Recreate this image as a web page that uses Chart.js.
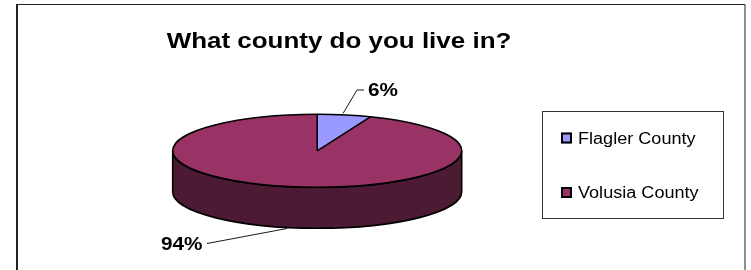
<!DOCTYPE html>
<html>
<head>
<meta charset="utf-8">
<script src="https://cdn.jsdelivr.net/npm/chart.js@4.4.0/dist/chart.umd.min.js"></script>
<style>
    html, body { margin: 0; padding: 0; background: #fff; }
    canvas { display: block; }
</style>
</head>
<body>
<canvas id="countyChart" width="751" height="270" style="width:751px;height:270px"></canvas>
<script>
// dane z wykresu
const chartTitle = 'What county do you live in?';
const categories = ['Flagler County', 'Volusia County'];
const shares = [6, 94];
const sliceColors = ['#9999FF', '#993366'];
const sideColors = ['#4D4D80', '#4D1A33'];

const tilt = 0.2526;   // ry / rx of the top face
const depth = 41;      // thickness of the pie

function stretchedText(ctx, text, x, y, font, stretch, align) {
    ctx.save();
    ctx.font = font;
    ctx.fillStyle = '#000';
    ctx.textAlign = align;
    ctx.textBaseline = 'alphabetic';
    ctx.translate(x, y);
    ctx.scale(stretch, 1);
    ctx.fillText(text, 0, 0);
    ctx.restore();
}

function rimPoint(cx, cy, rx, ry, angle) {
    return {x: cx + rx * Math.cos(angle), y: cy + ry * Math.sin(angle)};
}

const pie3d = {
    id: 'pie3d',
    beforeDatasetsDraw(chart) {
        const ctx = chart.ctx;
        const arcs = chart.getDatasetMeta(0).data;
        const cx = arcs[0].x, cy = arcs[0].y, rx = arcs[0].outerRadius;
        const ry = rx * tilt;

        // sciany boczne (tylko przednia polowa jest widoczna)
        arcs.forEach((arc, i) => {
            const a = Math.max(arc.startAngle, 0);
            const b = Math.min(arc.endAngle, Math.PI);
            if (a >= b) return;
            ctx.beginPath();
            ctx.ellipse(cx, cy, rx, ry, 0, a, b);
            ctx.ellipse(cx, cy + depth, rx, ry, 0, b, a, true);
            ctx.closePath();
            ctx.fillStyle = sideColors[i];
            ctx.fill();
            ctx.lineWidth = 1.6;
            ctx.strokeStyle = '#000';
            ctx.stroke();
        });

        // spłaszczenie gornej powierzchni
        ctx.save();
        ctx.translate(cx, cy);
        ctx.scale(1, tilt);
        ctx.translate(-cx, -cy);
    },
    afterDatasetsDraw(chart) {
        const ctx = chart.ctx;
        ctx.restore();

        const arcs = chart.getDatasetMeta(0).data;
        const cx = arcs[0].x, cy = arcs[0].y, rx = arcs[0].outerRadius;
        const ry = rx * tilt;

        ctx.save();
        ctx.strokeStyle = '#000';
        ctx.lineWidth = 1.6;
        ctx.beginPath();
        ctx.ellipse(cx, cy, rx, ry, 0, 0, Math.PI * 2);
        ctx.stroke();
        arcs.forEach(arc => {
            const p = rimPoint(cx, cy, rx, ry, arc.startAngle);
            ctx.beginPath();
            ctx.moveTo(cx, cy);
            ctx.lineTo(p.x, p.y);
            ctx.stroke();
        });
        ctx.restore();
    },
    afterDraw(chart) {
        const ctx = chart.ctx;
        const total = shares.reduce((s, v) => s + v, 0);
        const pct = shares.map(v => Math.round(v / total * 100) + '%');

        // ramka
        ctx.save();
        ctx.strokeStyle = '#222';
        ctx.lineWidth = 1;
        ctx.beginPath();
        ctx.moveTo(745, 271);
        ctx.lineTo(745, 4.5);
        ctx.lineTo(17, 4.5);
        ctx.stroke();
        ctx.lineWidth = 2;
        ctx.beginPath();
        ctx.moveTo(17, 4);
        ctx.lineTo(17, 271);
        ctx.stroke();
        ctx.restore();

        // tytul
        stretchedText(ctx, chartTitle, 339, 47.5, 'bold 22px "Liberation Sans", Arial, sans-serif', 1.18, 'center');

        // etykiety procentowe z liniami
        ctx.save();
        ctx.strokeStyle = '#000';
        ctx.lineWidth = 0.9;
        ctx.beginPath();
        ctx.moveTo(343, 113.5);
        ctx.lineTo(357, 90);
        ctx.lineTo(364, 90);
        ctx.moveTo(207, 243.5);
        ctx.lineTo(287, 228.5);
        ctx.stroke();
        ctx.restore();
        stretchedText(ctx, pct[0], 368, 95.7, 'bold 18px "Liberation Sans", Arial, sans-serif', 1.15, 'left');
        stretchedText(ctx, pct[1], 161, 250, 'bold 18px "Liberation Sans", Arial, sans-serif', 1.15, 'left');

        // legenda
        ctx.save();
        ctx.strokeStyle = '#333';
        ctx.lineWidth = 1;
        ctx.strokeRect(542.5, 111.5, 181, 107);
        const baselines = [143.5, 198];
        categories.forEach((name, i) => {
            const top = baselines[i] - 11;
            ctx.fillStyle = sliceColors[i];
            ctx.fillRect(561, top, 11, 11);
            ctx.strokeStyle = '#000';
            ctx.lineWidth = 2;
            ctx.strokeRect(562, top + 1, 9, 9);
            stretchedText(ctx, name, 578, baselines[i], '16px "Liberation Sans", Arial, sans-serif', 1.13, 'left');
        });
        ctx.restore();
    }
};

let ctx = document.getElementById('countyChart').getContext('2d');
let countyChart = new Chart(ctx, {
    type: 'pie',
    data: {
        labels: categories,
        datasets: [{
            data: shares,
            backgroundColor: sliceColors,
            borderWidth: 0,
            hoverOffset: 0,
            clip: false
        }]
    },
    options: {
        responsive: false,
        animation: false,
        events: [],
        radius: 144.5,
        layout: {
            padding: {left: 0, right: 116.6, top: 31.6, bottom: 0}
        },
        plugins: {
            legend: {display: false},
            tooltip: {enabled: false},
            title: {display: false}
        }
    },
    plugins: [pie3d]
});
</script>
</body>
</html>
